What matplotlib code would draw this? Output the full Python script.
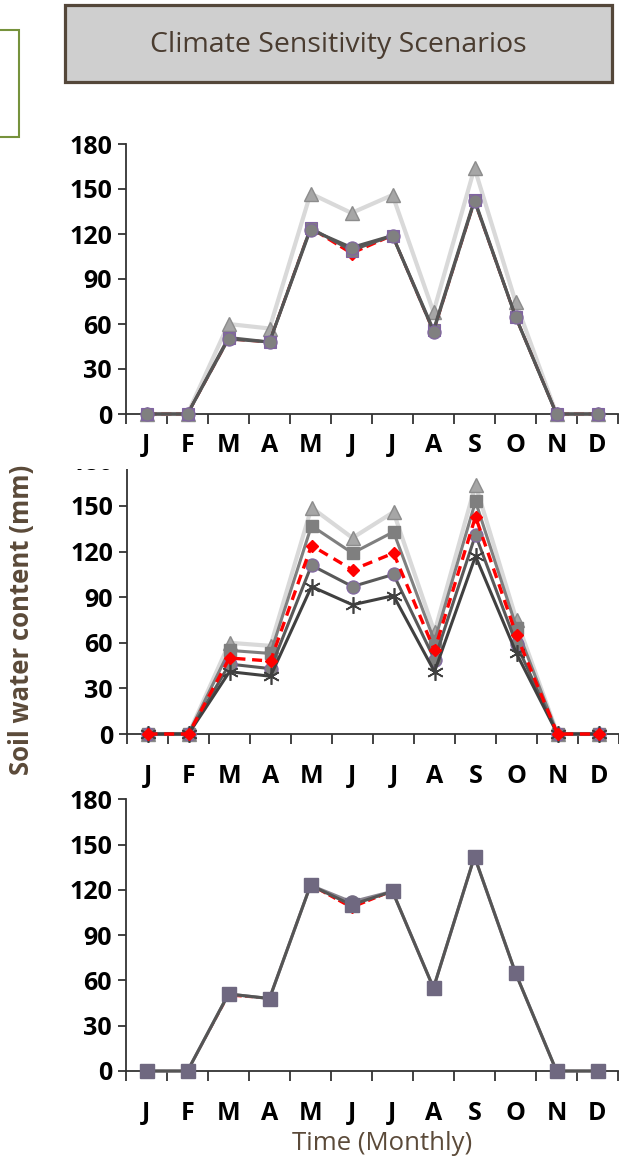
import matplotlib
matplotlib.use("Agg")
import matplotlib.pyplot as plt
from matplotlib.patches import Rectangle
from matplotlib.ticker import FixedLocator

months = ['J', 'F', 'M', 'A', 'M', 'J', 'J', 'A', 'S', 'O', 'N', 'D']
yticks = [0, 30, 60, 90, 120, 150, 180]

# Panel 1
p1_tri = [0, 0, 60, 57, 147, 134, 146, 68, 164, 75, 0, 0]
p1_red = [0, 0, 50, 48, 124, 107, 119, 55, 142, 65, 0, 0]
p1_sq = [0, 0, 51, 48, 124, 109, 119, 56, 143, 65, 0, 0]
p1_circ = [0, 0, 50, 48, 123, 111, 119, 55, 142, 65, 0, 0]
# Panel 2
p2_tri = [0, 0, 60, 58, 149, 129, 146, 67, 164, 75, 0, 0]
p2_sq = [0, 0, 55, 53, 137, 119, 133, 61, 153, 70, 0, 0]
p2_circ = [0, 0, 46, 43, 111, 97, 105, 49, 131, 59, 0, 0]
p2_star = [0, 0, 41, 38, 97, 85, 91, 41, 117, 53, 0, 0]
p2_red = [0, 0, 50, 48, 124, 108, 119, 55, 143, 65, 0, 0]
# Panel 3
p3_red = [0, 0, 50, 48, 123, 108, 119, 55, 142, 65, 0, 0]
p3_circ = [0, 0, 51, 48, 123, 112, 119, 55, 142, 65, 0, 0]
p3_sq = [0, 0, 51, 48, 123, 110, 119, 55, 142, 65, 0, 0]

W, H = 619, 1160
fig = plt.figure(figsize=(W / 100, H / 100), dpi=100)
fig.patch.set_facecolor('white')

def px_axes(left, right, top, bottom):
    return fig.add_axes([left / W, 1 - bottom / H, (right - left) / W, (bottom - top) / H])

TICKFONT = dict(family=['Open Sans', 'DejaVu Sans'], weight='bold', size=18)
x = list(range(12))

def style(ax, xpad):
    ax.set_xlim(-0.5, 11.5)
    ax.set_ylim(0, 180)
    ax.set_yticks(yticks)
    ax.set_yticklabels([str(v) for v in yticks], **TICKFONT)
    ax.set_xticks(x)
    ax.set_xticklabels(months, **TICKFONT)
    ax.xaxis.set_minor_locator(FixedLocator([i - 0.5 for i in range(13)]))
    ax.tick_params(axis='x', which='major', length=0, pad=xpad)
    ax.tick_params(axis='x', which='minor', length=7, width=1.3, color='#333333', direction='out')
    ax.tick_params(axis='y', which='major', length=6, width=1.3, color='#333333', pad=4)
    for s in ['top', 'right']:
        ax.spines[s].set_visible(False)
    for s in ['left', 'bottom']:
        ax.spines[s].set_color('#333333')
        ax.spines[s].set_linewidth(1.3)
        ax.spines[s].set_zorder(1)
    ax.set_facecolor('white')

PURP = '#8064a2'

# ---- Panel 1
ax1 = px_axes(126, 618, 144, 414)
style(ax1, 14)
ax1.plot(x, p1_tri, color='#d9d9d9', lw=3, marker='^', ms=10.5, mfc='#a6a6a6', mec='#8c8c8c', zorder=2, clip_on=False)
ax1.plot(x, p1_red, color='#ff0000', lw=2, ls='--', marker='D', ms=6, mfc='#ff0000', mec='#ff0000', zorder=3, clip_on=False)
ax1.plot(x, p1_sq, color='#5a5a5a', lw=2.2, marker='s', ms=9, mfc='#808080', mec=PURP, mew=0.8, zorder=4, clip_on=False)
ax1.plot(x, p1_circ, color='#555555', lw=2.2, marker='o', ms=9.5, mfc='#808080', mec=PURP, mew=0.8, zorder=5, clip_on=False)

# ---- Panel 2
ax2 = px_axes(127, 619, 734 - 180 * 1.52, 734)
style(ax2, 21.5)
ax2.plot(x, p2_tri, color='#d9d9d9', lw=3, marker='^', ms=10.5, mfc='#a6a6a6', mec='#8c8c8c', zorder=2, clip_on=False)
ax2.plot(x, p2_sq, color='#7f7f7f', lw=2.2, marker='s', ms=9, mfc='#7f7f7f', mec='#7f7f7f', zorder=3, clip_on=False)
ax2.plot(x, p2_circ, color='#595959', lw=2.2, marker='o', ms=9.5, mfc='#808080', mec=PURP, mew=0.8, zorder=4, clip_on=False)
ax2.plot(x, p2_red, color='#ff0000', lw=2.4, ls=(0, (3, 2)), marker='D', ms=6.5, mfc='#ff0000', mec='#ff0000', zorder=5, clip_on=False)
ax2.plot(x, p2_star, color='#404040', lw=2.2, marker=(6, 2, 0), ms=12, mec='#404040', mew=1.2, zorder=4, clip_on=False)

# ---- Panel 3
ax3 = px_axes(126, 618, 1071 - 180 * 1.51, 1071)
style(ax3, 21.5)
ax3.plot(x, p3_red, color='#ff0000', lw=1.5, ls='--', marker='D', ms=5, mfc='#ff0000', mec='#ff0000', zorder=2, clip_on=False)
ax3.plot(x, p3_circ, color='#8a8590', lw=2.2, marker='o', ms=9.5, mfc='#736b82', mec='#736b82', zorder=3, clip_on=False)
ax3.plot(x, p3_sq, color='#555555', lw=2.2, marker='s', ms=9.5, mfc='#6f6880', mec='#6f6880', zorder=4, clip_on=False)

# white mask clipping the top of panel 2
ax2.set_zorder(1)
mask = Rectangle((0, 1 - 469 / H), 1, 469 / H, transform=fig.transFigure,
                 facecolor='white', edgecolor='none', zorder=2)
fig.add_artist(mask)
ax1.set_zorder(3)
ax3.set_zorder(3)

# Title box
tb = Rectangle((65 / W, 1 - 82 / H), (612 - 65) / W, (82 - 5) / H, transform=fig.transFigure,
               facecolor='#cfcfcf', edgecolor='#54473a', linewidth=2.3, zorder=5)
fig.add_artist(tb)
fig.text((65 + 612) / 2 / W, 1 - 45 / H, 'Climate Sensitivity Scenarios', ha='center', va='center',
         color='#4a3c30', fontsize=20.5, family=['Open Sans', 'DejaVu Sans'], zorder=6)

# Partial green box at left
gb = Rectangle((-20 / W, 1 - 137 / H), 39 / W, 107 / H, transform=fig.transFigure,
               facecolor='none', edgecolor='#76923c', linewidth=1.5, zorder=5)
fig.add_artist(gb)

# Axis labels
fig.text(22 / W, 1 - 620 / H, 'Soil water content (mm)', rotation=90, ha='center', va='center',
         color='#5b4a39', fontsize=18.5, weight='bold', family=['Open Sans', 'DejaVu Sans'], zorder=6)
fig.text(382 / W, 1 - 1143 / H, 'Time (Monthly)', ha='center', va='center',
         color='#5b4a39', fontsize=18.5, family=['Open Sans', 'DejaVu Sans'], zorder=6)

fig.savefig('out.png', dpi=100, facecolor='white')
